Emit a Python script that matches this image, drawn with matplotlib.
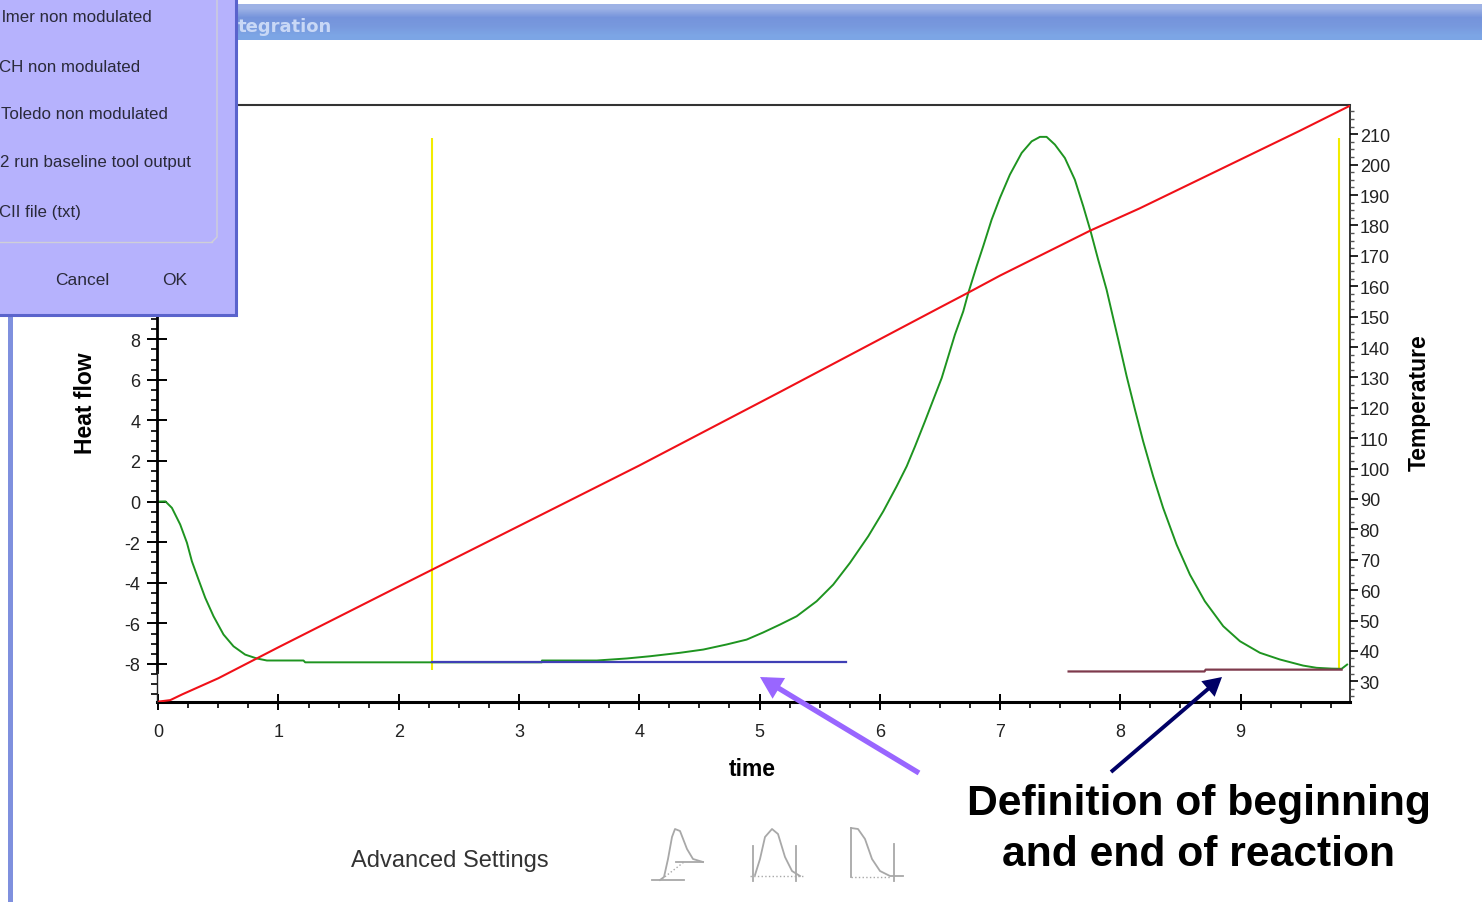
import numpy as np
import matplotlib
matplotlib.use("Agg")
import matplotlib.pyplot as plt
from matplotlib.patches import Rectangle, FancyArrowPatch
from matplotlib.ticker import MultipleLocator

plt.rcParams['font.family'] = ['Liberation Sans', 'DejaVu Sans']
plt.rcParams['axes.unicode_minus'] = False

# heat flow curve
time_flow = [0.0, 0.06, 0.114, 0.183, 0.239, 0.28, 0.335, 0.391, 0.46, 0.543, 0.626, 0.723, 0.82, 0.904,
             1.208, 1.222, 2.278, 3.19, 3.191, 3.647, 3.896, 4.09, 4.339, 4.533, 4.727, 4.893, 5.03,
             5.17, 5.309, 5.475, 5.613, 5.752, 5.904, 6.029, 6.14, 6.224, 6.293, 6.376, 6.445, 6.515,
             6.57, 6.625, 6.694, 6.736, 6.805, 6.86, 6.93, 6.999, 7.082, 7.18, 7.263, 7.332, 7.387,
             7.456, 7.539, 7.622, 7.692, 7.753, 7.816, 7.886, 7.928, 7.983, 8.053, 8.122, 8.19, 8.273,
             8.356, 8.468, 8.579, 8.703, 8.856, 8.995, 9.161, 9.327, 9.52, 9.632, 9.757, 9.84, 9.886]
heat_flow = [0.0, 0.01, -0.31, -1.13, -2.03, -2.94, -3.84, -4.74, -5.65, -6.55, -7.13, -7.54, -7.73, -7.83,
             -7.83, -7.92, -7.92, -7.92, -7.83, -7.83, -7.73, -7.62, -7.45, -7.29, -7.04, -6.80, -6.45,
             -6.06, -5.65, -4.91, -4.09, -3.02, -1.71, -0.48, 0.75, 1.74, 2.72, 3.96, 5.02, 6.09,
             7.16, 8.23, 9.37, 10.28, 11.59, 12.58, 13.89, 14.96, 16.11, 17.18, 17.75, 17.97, 17.97,
             17.59, 16.93, 15.86, 14.55, 13.32, 11.92, 10.44, 9.37, 7.98, 6.17, 4.53, 2.97, 1.25,
             -0.31, -2.12, -3.60, -4.91, -6.14, -6.88, -7.45, -7.78, -8.08, -8.19, -8.23, -8.24, -8.03]

time_temp = [0.0, 0.1, 0.2, 0.5, 1.0, 2.0, 4.0, 5.17, 6.5, 6.736, 7.0, 7.75, 8.16, 9.49, 9.91]
temperature = [23.3, 23.8, 25.7, 31.0, 41.2, 61.2, 101.0, 125.2, 153.0, 157.9, 163.5, 178.3, 185.6, 211.1, 219.4]

limit_times = [2.28, 9.82]
limit_flow = [-8.28, 17.92]

start_base_t = [2.28, 5.72]
start_base_h = [-7.92, -7.92]
end_base_t = [7.57, 8.7, 8.71, 9.84]
end_base_h = [-8.37, -8.37, -8.28, -8.28]

xticks = list(range(10))
flow_ticks = list(range(-8, 20, 2))
temp_ticks = list(range(30, 220, 10))

menu_items = ["lmer non modulated", "CH non modulated", "Toledo non modulated",
              "2 run baseline tool output", "CII file (txt)"]

W, H = 1482, 903
AX_L, AX_R, AX_T, AX_B = 157, 1350, 105.8, 702.5
fig = plt.figure(figsize=(W / 100, H / 100), dpi=100, facecolor='white')

ax = fig.add_axes([AX_L / W, 1 - AX_B / H, (AX_R - AX_L) / W, (AX_B - AX_T) / H])
ax.set_xlim(-0.01, 9.91)
ax.set_ylim(-9.85, 19.55)

ax.plot(limit_times[0:1] * 2, limit_flow, color='#F2EC00', lw=1.5, solid_capstyle='butt')
ax.plot(limit_times[1:2] * 2, limit_flow, color='#F2EC00', lw=1.5, solid_capstyle='butt')
ax.plot(time_flow, heat_flow, color='#1E9420', lw=1.4)
ax.plot(start_base_t, start_base_h, color='#3F3FB5', lw=1.6)
ax.plot(end_base_t, end_base_h, color='#7E3A4C', lw=1.6)

ax.set_xticks(xticks)
ax.set_yticks(flow_ticks)
ax.xaxis.set_minor_locator(MultipleLocator(0.25))
ax.yaxis.set_minor_locator(MultipleLocator(0.5))
ax.tick_params(axis='x', which='major', direction='inout', length=11, width=1.4, pad=9.7,
               labelsize=13, labelcolor='#222222')
ax.tick_params(axis='x', which='minor', direction='out', length=4, width=1.2)
ax.tick_params(axis='y', which='major', direction='inout', length=14, width=1.4, pad=5,
               labelsize=13, labelcolor='#222222')
ax.tick_params(axis='y', which='minor', direction='out', length=4, width=1.2)
ax.spines['left'].set_linewidth(2)
ax.spines['left'].set_bounds(-8.4, 19.55)
ax.spines['bottom'].set_linewidth(2.2)
ax.spines['top'].set_color('#333333')
ax.spines['top'].set_linewidth(1.5)
ax.spines['right'].set_color('#333333')
ax.spines['right'].set_linewidth(1.4)
ax.set_xlabel("time", fontsize=16.5, fontweight='bold')
ax.set_ylabel("Heat flow", fontsize=16.5, fontweight='bold')
ax.yaxis.label.set_va('center')
ax.xaxis.label.set_va('center')
ax.yaxis.set_label_coords((85 - AX_L) / (AX_R - AX_L), (AX_B - 403) / (AX_B - AX_T))
ax.xaxis.set_label_coords((752 - AX_L) / (AX_R - AX_L), -(770 - AX_B) / (AX_B - AX_T))

ax2 = ax.twinx()
ax2.set_ylim(23.35, 219.7)
ax2.plot(time_temp, temperature, color='#F01018', lw=1.5)
ax2.set_yticks(temp_ticks)
ax2.yaxis.set_minor_locator(MultipleLocator(2.5))
ax2.tick_params(axis='y', which='major', direction='out', length=6, width=1.2, pad=1,
                labelsize=13, labelcolor='#222222')
ax2.tick_params(axis='y', which='minor', direction='out', length=3, width=1, color='#555555')
for name, sp in ax2.spines.items():
    sp.set_visible(False)
ax2.set_ylabel("Temperature", fontsize=16.5, fontweight='bold')
ax2.yaxis.label.set_va('center')
ax2.yaxis.set_label_coords((1419 - AX_L) / (AX_R - AX_L), (AX_B - 403) / (AX_B - AX_T))

# window chrome and notes sit on a full-size layer in pixel coordinates
top = fig.add_axes([0, 0, 1, 1], zorder=10)
top.axis('off')
top.patch.set_alpha(0)

grad = np.array([[0.62, 0.70, 0.90], [0.46, 0.58, 0.86], [0.47, 0.60, 0.87],
                 [0.49, 0.65, 0.90]])[:, None, :]
top.imshow(grad, extent=(238, W, 41, 5.5), aspect='auto', interpolation='bilinear')
top.set_xlim(0, W)
top.set_ylim(H, 0)
top.text(238, 27, "tegration", color='#C9D8F6', fontsize=13, fontweight='bold',
         family='DejaVu Sans', va='center')

# thin bit of the left axis under the -8 tick
top.plot([157, 157], [672, 703], color='#222222', lw=1)

top.add_patch(Rectangle((8, 316), 4.5, H - 316, fc='#7F90DE', ec='none'))
top.add_patch(Rectangle((-4, -4), 240.3, 319.5, fc='#B6B2FD', ec='#5A63CC', lw=2.2))
top.plot([217, 217, 212], [0, 238, 243], color='#CFCFD8', lw=1)
top.plot([212, 0], [243, 243], color='#CFCFD8', lw=1)

menu_y = [18, 68, 114.5, 163, 213]
menu_x = [2, -1, 1, 0, -1]
for label, x, y in zip(menu_items, menu_x, menu_y):
    top.text(x, y, label, fontsize=12.2, color='#2A2A3A', va='center')
top.text(82, 281, "Cancel", fontsize=12.5, color='#2A2A3A', va='center', ha='center')
top.text(175, 281, "OK", fontsize=12.5, color='#2A2A3A', va='center', ha='center')

top.text(450, 861, "Advanced Settings", fontsize=17, color='#333333', va='center', ha='center')

# little peak icons
icon_color = '#A8A8A8'
icon_lines = [
    ([660, 664, 668, 672, 675, 680, 687, 693, 703], [881, 878, 860, 838, 830, 832, 850, 860, 863]),
    ([652, 684], [881, 881]),
    ([676, 703], [863, 863]),
    ([753, 753], [847, 882]),
    ([796, 796], [847, 882]),
    ([755, 760, 765, 772, 778, 785, 792, 800], [876, 860, 838, 830, 835, 858, 872, 877]),
    ([851, 851], [829, 878]),
    ([894, 894], [845, 882]),
    ([851, 858, 865, 872, 880, 890, 903], [829, 830, 840, 860, 872, 877, 877]),
]
for xs, ys in icon_lines:
    top.plot(xs, ys, color=icon_color, lw=1.3)
top.plot([662, 684], [880, 863], color=icon_color, lw=1, ls=':')
top.plot([750, 803], [877, 877], color=icon_color, lw=1, ls=':')
top.plot([851, 890], [878, 878], color=icon_color, lw=1, ls=':')

top.add_patch(FancyArrowPatch((919, 774), (760, 678), arrowstyle='-|>,head_length=10,head_width=5.5',
                              color='#9966FF', lw=3.8, shrinkA=0, shrinkB=0,
                              capstyle='butt', joinstyle='miter'))
top.add_patch(FancyArrowPatch((1111, 773), (1222, 678), arrowstyle='-|>,head_length=9,head_width=5',
                              color='#000066', lw=2.8, shrinkA=0, shrinkB=0,
                              capstyle='butt', joinstyle='miter'))
top.text(1199, 829.5, "Definition of beginning\nand end of reaction", fontsize=30.7, fontweight='bold',
         color='black', ha='center', va='center', linespacing=1.36)

fig.savefig("out.png", dpi=100)
